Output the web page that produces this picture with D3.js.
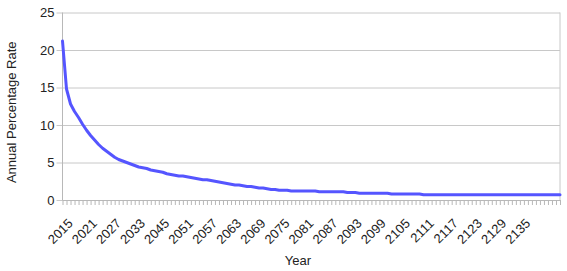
<!DOCTYPE html>
<html>
<head>
<meta charset="utf-8">
<script src="https://d3js.org/d3.v7.min.js"></script>
<style>
  body { margin: 0; background: #fff; }
  text { font-family: "Liberation Sans", Arial, sans-serif; fill: #222; }
</style>
</head>
<body>
<svg id="chart"></svg>
<script>
// years on the category axis (2034-2039 are not in the table)
const years = d3.range(2015, 2034).concat(d3.range(2040, 2146));

// annual percentage rate, one value per year
const rates = [
  21.2, 14.8, 12.8, 11.8, 11.0, 10.1, 9.3, 8.6, 8.0, 7.4,
  6.9, 6.5, 6.1, 5.7, 5.4, 5.2, 5.0, 4.8, 4.6, 4.4,
  4.3, 4.2, 4.0, 3.9, 3.8, 3.7, 3.5, 3.4, 3.3, 3.2,
  3.2, 3.1, 3.0, 2.9, 2.8, 2.7, 2.7, 2.6, 2.5, 2.4,
  2.3, 2.2, 2.1, 2.0, 2.0, 1.9, 1.8, 1.8, 1.7, 1.6,
  1.6, 1.5, 1.4, 1.4, 1.3, 1.3, 1.3, 1.2, 1.2, 1.2,
  1.2, 1.2, 1.2, 1.2, 1.1, 1.1, 1.1, 1.1, 1.1, 1.1,
  1.1, 1.0, 1.0, 1.0, 0.9, 0.9, 0.9, 0.9, 0.9, 0.9,
  0.9, 0.9, 0.8, 0.8, 0.8, 0.8, 0.8, 0.8, 0.8, 0.8,
  0.7, 0.7, 0.7, 0.7, 0.7, 0.7, 0.7, 0.7, 0.7, 0.7,
  0.7, 0.7, 0.7, 0.7, 0.7, 0.7, 0.7, 0.7, 0.7, 0.7,
  0.7, 0.7, 0.7, 0.7, 0.7, 0.7, 0.7, 0.7, 0.7, 0.7,
  0.7, 0.7, 0.7, 0.7, 0.7
];

// labelled years on the x axis
const xTickLabels = [2015, 2021, 2027, 2033, 2045, 2051, 2057, 2063, 2069, 2075,
  2081, 2087, 2093, 2099, 2105, 2111, 2117, 2123, 2129, 2135];
const yTicks = [0, 5, 10, 15, 20, 25];

const width = 567, height = 271;
const margin = { top: 12.5, right: 7, bottom: 71, left: 62.5 };

const svg = d3.select('#chart').attr('width', width).attr('height', height);

const x = d3.scalePoint()
  .domain(years)
  .range([margin.left, width - margin.right]);

const y = d3.scaleLinear()
  .domain([0, 25])
  .range([height - margin.bottom, margin.top]);

const data = years.map((yr, i) => ({ year: yr, rate: rates[i] }));

// grid lines + y ticks
svg.append('g')
  .attr('transform', `translate(${margin.left},0)`)
  .call(d3.axisLeft(y).tickValues(yTicks).tickSize(-(width - margin.right - margin.left)).tickSizeOuter(0).tickPadding(8))
  .call(g => g.select('.domain').remove())
  .call(g => g.selectAll('.tick line').attr('stroke', '#c8c8c8').attr('x1', -6))
  .call(g => g.selectAll('.tick text').attr('font-size', 13).attr('fill', '#222')
    .style('font-family', '"Liberation Sans", Arial, sans-serif'));

// right border
svg.append('line')
  .attr('x1', width - margin.right).attr('x2', width - margin.right)
  .attr('y1', margin.top).attr('y2', height - margin.bottom)
  .attr('stroke', '#c8c8c8');

// y axis line
svg.append('line')
  .attr('x1', margin.left).attr('x2', margin.left)
  .attr('y1', margin.top).attr('y2', height - margin.bottom)
  .attr('stroke', '#b8b8b8');

// x axis: a small tick on every year, labels on some
svg.append('g')
  .attr('transform', `translate(0,${height - margin.bottom})`)
  .call(d3.axisBottom(x).tickSize(5).tickSizeOuter(0).tickFormat(''))
  .call(g => g.select('.domain').attr('stroke', '#b8b8b8'))
  .call(g => g.selectAll('.tick line').attr('stroke', '#b8b8b8'));

svg.append('g')
  .selectAll('text')
  .data(xTickLabels)
  .join('text')
  .attr('transform', d => `translate(${x(d) + 8},${height - margin.bottom + 21}) rotate(-45)`)
  .attr('text-anchor', 'end')
  .attr('dy', '0.35em')
  .attr('font-size', 13)
  .attr('fill', '#333')
  .text(d => d);

// the line
svg.append('path')
  .datum(data)
  .attr('fill', 'none')
  .attr('stroke', '#5555ff')
  .attr('stroke-width', 3)
  .attr('stroke-linejoin', 'round')
  .attr('stroke-linecap', 'round')
  .attr('d', d3.line().x(d => x(d.year)).y(d => y(d.rate)));

// axis titles
svg.append('text')
  .attr('transform', `translate(16,${(margin.top + height - margin.bottom) / 2 + 6}) rotate(-90)`)
  .attr('text-anchor', 'middle')
  .attr('font-size', 13)
  .attr('fill', '#333')
  .text('Annual Percentage Rate');

svg.append('text')
  .attr('x', 298)
  .attr('y', 265)
  .attr('text-anchor', 'middle')
  .attr('font-size', 13)
  .attr('fill', '#222')
  .text('Year');
</script>
</body>
</html>
